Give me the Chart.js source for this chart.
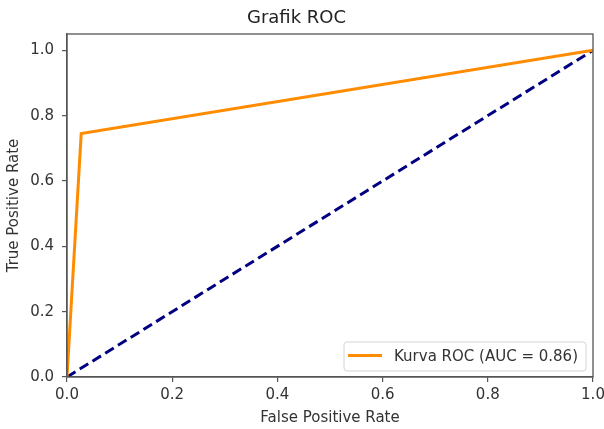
<!DOCTYPE html>
<html>
<head>
<meta charset="utf-8">
<script src="https://cdn.jsdelivr.net/npm/chart.js@4.4.1/dist/chart.umd.min.js"></script>
<style>
html,body{margin:0;padding:0;background:#fff;}
#wrap{width:604px;height:429px;position:relative;}
</style>
</head>
<body>
<div id="wrap"><canvas id="c" width="604" height="429"></canvas></div>
<script>
// ---- data ----
const rocFpr = [0, 0.027, 1];
const rocTpr = [0, 0.745, 1];
const diagX = [0, 1];
const diagY = [0, 1];
const xTicks = [0, 0.2, 0.4, 0.6, 0.8, 1.0];
const yTicks = [0, 0.2, 0.4, 0.6, 0.8, 1.0];
const rocLabel = 'Kurva ROC (AUC = 0.86)';
const titleText = 'Grafik ROC';
const xLabel = 'False Positive Rate';
const yLabel = 'True Positive Rate';

const FONT = "'DejaVu Sans', sans-serif";
const AXC = '#555';

const framePlugin = {
  id: 'frame',
  afterDatasetsDraw(chart) {
    const {ctx, chartArea: a} = chart;
    ctx.save();
    ctx.strokeStyle = AXC;
    ctx.lineWidth = 1.3;
    ctx.strokeRect(a.left, a.top, a.right - a.left, a.bottom - a.top);
    ctx.restore();
  }
};

const legendPlugin = {
  id: 'insideLegend',
  afterDraw(chart) {
    const {ctx, chartArea: a} = chart;
    const ds = chart.data.datasets[0];
    ctx.save();
    ctx.font = '15px ' + FONT;
    const tw = ctx.measureText(ds.label).width;
    const padL = 4, handle = 34, gap = 12, padR = 8, h = 29;
    const w = padL + handle + gap + tw + padR;
    const right = a.right - 7, bottom = a.bottom - 6;
    const left = right - w, top = bottom - h;
    ctx.beginPath();
    ctx.roundRect(left, top, w, h, 3);
    ctx.fillStyle = 'rgba(255,255,255,0.85)';
    ctx.fill();
    ctx.strokeStyle = '#d4d4d4';
    ctx.lineWidth = 1;
    ctx.stroke();
    const cy = top + h / 2;
    ctx.beginPath();
    ctx.moveTo(left + padL, cy - 1);
    ctx.lineTo(left + padL + handle, cy - 1);
    ctx.strokeStyle = ds.borderColor;
    ctx.lineWidth = 3;
    ctx.stroke();
    ctx.fillStyle = '#333';
    ctx.textBaseline = 'middle';
    ctx.textAlign = 'left';
    ctx.fillText(ds.label, left + padL + handle + gap, cy + 1);
    ctx.restore();
  }
};

const toPts = (xs, ys) => xs.map((x, i) => ({x: x, y: ys[i]}));

new Chart(document.getElementById('c'), {
  type: 'scatter',
  data: {
    datasets: [
      {
        label: rocLabel,
        data: toPts(rocFpr, rocTpr),
        showLine: true,
        borderColor: '#ff8c00',
        backgroundColor: '#ff8c00',
        borderWidth: 3,
        pointRadius: 0,
        tension: 0
      },
      {
        label: 'diag',
        data: toPts(diagX, diagY),
        showLine: true,
        borderColor: '#000080',
        backgroundColor: '#000080',
        borderWidth: 3,
        borderDash: [10, 5],
        pointRadius: 0,
        tension: 0
      }
    ]
  },
  options: {
    responsive: false,
    animation: false,
    layout: {padding: {left: 0, right: 11, top: 0, bottom: 0}},
    plugins: {
      legend: {display: false},
      tooltip: {enabled: false},
      title: {
        display: true,
        text: titleText,
        color: '#222',
        font: {family: FONT, size: 18, weight: 'normal', lineHeight: 1.2},
        padding: {top: 8, bottom: 4.4}
      }
    },
    scales: {
      x: {
        type: 'linear',
        min: 0, max: 1,
        afterBuildTicks: s => { s.ticks = xTicks.map(v => ({value: v})); },
        afterFit: s => { s.height = 52; s.paddingLeft = 0; s.paddingRight = 0; },
        ticks: {
          color: '#333',
          font: {family: FONT, size: 15},
          padding: 4,
          maxRotation: 0,
          callback: v => Number(v).toFixed(1)
        },
        grid: {drawOnChartArea: false, drawTicks: true, tickLength: 5, color: AXC, lineWidth: 1.2},
        border: {display: true, color: AXC, width: 1.3},
        title: {
          display: true, text: xLabel, color: '#333',
          font: {family: FONT, size: 15, lineHeight: 1.2},
          padding: {top: 0, bottom: 2}
        }
      },
      y: {
        type: 'linear',
        min: 0, max: 1.05,
        afterBuildTicks: s => { s.ticks = yTicks.map(v => ({value: v})); },
        afterFit: s => { s.width = 67; s.paddingTop = 0; s.paddingBottom = 0; },
        ticks: {
          color: '#333',
          font: {family: FONT, size: 15},
          padding: 8,
          callback: v => Number(v).toFixed(1)
        },
        grid: {drawOnChartArea: false, drawTicks: true, tickLength: 5, color: AXC, lineWidth: 1.2},
        border: {display: true, color: AXC, width: 1.3},
        title: {
          display: true, text: yLabel, color: '#333',
          font: {family: FONT, size: 15, lineHeight: 1.2},
          padding: {top: 5, bottom: 0}
        }
      }
    }
  },
  plugins: [framePlugin, legendPlugin]
});
</script>
</body>
</html>
